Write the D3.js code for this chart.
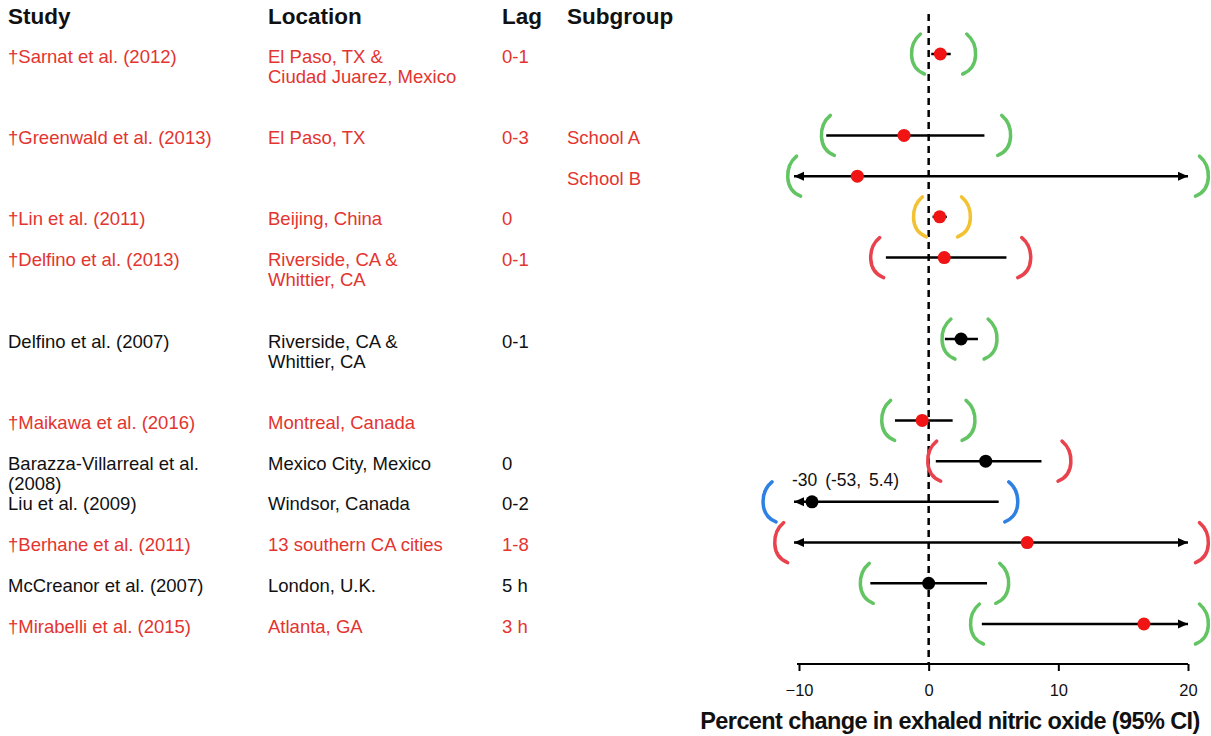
<!DOCTYPE html>
<html>
<head>
<meta charset="utf-8">
<script src="https://cdn.jsdelivr.net/npm/d3@7"></script>
<style>
  html, body { margin: 0; padding: 0; background: #fff; }
  svg { display: block; font-family: "Liberation Sans", Arial, sans-serif; }
</style>
</head>
<body>
<svg id="chart" width="1211" height="736"></svg>
<script>
// Studies of traffic-related pollution and exhaled nitric oxide
const studies = [
  "†Sarnat et al. (2012)", "†Greenwald et al. (2013)", "", "†Lin et al. (2011)",
  "†Delfino et al. (2013)", "Delfino et al. (2007)", "†Maikawa et al. (2016)",
  "Barazza-Villarreal et al.\n(2008)", "Liu et al. (2009)", "†Berhane et al. (2011)",
  "McCreanor et al. (2007)", "†Mirabelli et al. (2015)"
];
const locations = [
  "El Paso, TX &\nCiudad Juarez, Mexico", "El Paso, TX", "", "Beijing, China",
  "Riverside, CA &\nWhittier, CA", "Riverside, CA &\nWhittier, CA", "Montreal, Canada",
  "Mexico City, Mexico", "Windsor, Canada", "13 southern CA cities", "London, U.K.", "Atlanta, GA"
];
const lags = ["0-1", "0-3", "", "0", "0-1", "0-1", "", "0", "0-2", "1-8", "5 h", "3 h"];
const subgroups = ["", "School A", "School B", "", "", "", "", "", "", "", "", ""];
// row slot in the table (blank slots leave room for two-line entries)
const slots = [0, 2, 3, 4, 5, 7, 9, 10, 11, 12, 13, 14];
// dagger studies are flagged
const flagged = [true, true, true, true, true, false, true, false, false, true, false, true];

// percent change and 95% CI; null = beyond the plotted range
const estimates = [0.9, -1.9, -5.5, 0.85, 1.2, 2.5, -0.5, 4.4, -30, 7.6, 0, 16.6];
const ciLower   = [0.2, -7.9, null, 0.3, -3.3, 1.25, -2.6, 0.55, -53, null, -4.5, 4.1];
const ciUpper   = [1.7, 4.3, null, 1.4, 6.0, 3.8, 1.85, 8.7, 5.4, null, 4.5, null];

// quality brackets around each estimate
const bracketClass = ["good", "good", "good", "fair", "poor", "good", "good", "poor", "weak", "poor", "good", "good"];
const bracketLeft  = [-1.25, -8.2, -10.8, -1.1, -4.4, 1.1, -3.55, 0.0, -12.7, -11.8, -5.2, 3.3];
const bracketRight = [3.55, 6.25, 21.5, 3.15, 7.8, 5.2, 3.5, 10.9, 6.8, 21.5, 6.1, 21.5];

const xTicks = [-10, 0, 10, 20];
const headers = ["Study", "Location", "Lag", "Subgroup"];

const RED = "#e3342f";
const bracketColors = { good: "#62c462", fair: "#f2c233", poor: "#e8424d", weak: "#2f80e3" };

const svg = d3.select("#chart");
const x = d3.scaleLinear().domain([-10, 20]).range([799, 1188]);
const y = d3.scaleLinear().domain([0, 14]).range([54, 624]);
const axisY = 664;

// column headers
const headerX = [8, 268, 502, 567];
svg.append("g").selectAll("text").data(headers).join("text")
  .attr("x", (d, i) => headerX[i]).attr("y", 24)
  .attr("font-size", 22.5).attr("font-weight", "bold").attr("fill", "#111")
  .text(d => d);

// table text
const cols = [studies, locations, lags, subgroups];
const colX = [8, 268, 502, 567];
const table = svg.append("g");
cols.forEach((col, c) => {
  col.forEach((txt, i) => {
    if (!txt) return;
    const t = table.append("text")
      .attr("x", colX[c]).attr("y", y(slots[i]) + 8.5)
      .attr("font-size", 18.5)
      .attr("fill", flagged[i] ? RED : "#111");
    txt.split("\n").forEach((line, k) => {
      t.append("tspan").attr("x", colX[c]).attr("dy", k === 0 ? 0 : 20).text(line);
    });
  });
});

// reference line at zero
svg.append("line")
  .attr("x1", x(0)).attr("x2", x(0)).attr("y1", 14).attr("y2", axisY)
  .attr("stroke", "#000").attr("stroke-width", 2.5).attr("stroke-dasharray", "7,5");

// x axis
const axis = svg.append("g").attr("transform", `translate(0,${axisY})`)
  .call(d3.axisBottom(x).tickValues(xTicks).tickSize(7).tickSizeOuter(0).tickFormat(d3.format("d")));
axis.select(".domain").attr("stroke", "#000").attr("stroke-width", 2)
  .attr("d", `M${x(-10) - 2},0H${x(20)}`);
axis.selectAll(".tick line").attr("stroke", "#000").attr("stroke-width", 2);
axis.selectAll(".tick text").attr("font-size", 16.5).attr("fill", "#111")
  .attr("font-family", "Liberation Sans, Arial, sans-serif").attr("dy", "1.35em");

svg.append("text")
  .attr("x", 950).attr("y", 729).attr("text-anchor", "middle")
  .attr("font-size", 23.5).attr("font-weight", "bold").attr("letter-spacing", -0.6)
  .attr("fill", "#111")
  .text("Percent change in exhaled nitric oxide (95% CI)");

// arrowheads
const defs = svg.append("defs");
defs.append("marker").attr("id", "arrowR").attr("viewBox", "0 0 10 10")
  .attr("refX", 10).attr("refY", 5).attr("markerWidth", 10).attr("markerHeight", 10)
  .attr("markerUnits", "userSpaceOnUse").attr("orient", "auto")
  .append("path").attr("d", "M0,0.5L10,5L0,9.5Z").attr("fill", "#000");
defs.append("marker").attr("id", "arrowL").attr("viewBox", "0 0 10 10")
  .attr("refX", 0).attr("refY", 5).attr("markerWidth", 10).attr("markerHeight", 10)
  .attr("markerUnits", "userSpaceOnUse").attr("orient", "auto")
  .append("path").attr("d", "M10,0.5L0,5L10,9.5Z").attr("fill", "#000");

const xMin = x.domain()[0], xMax = x.domain()[1];
const rows = estimates.map((est, i) => {
  const loOff = ciLower[i] === null || ciLower[i] < xMin;
  const hiOff = ciUpper[i] === null || ciUpper[i] > xMax;
  return {
    est, i, cy: y(slots[i]), loOff, hiOff,
    x1: loOff ? x(xMin) - 5 : x(ciLower[i]),
    x2: hiOff ? x(xMax) : x(ciUpper[i]),
    px: est < xMin ? x(xMin) + 13 : x(est)
  };
});

// confidence interval lines
svg.append("g").selectAll("line").data(rows).join("line")
  .attr("x1", d => d.x1).attr("x2", d => d.x2)
  .attr("y1", d => d.cy).attr("y2", d => d.cy)
  .attr("stroke", "#000").attr("stroke-width", 2.5)
  .attr("marker-start", d => d.loOff ? "url(#arrowL)" : null)
  .attr("marker-end", d => d.hiOff ? "url(#arrowR)" : null);

// point estimates
svg.append("g").selectAll("circle").data(rows).join("circle")
  .attr("cx", d => d.px).attr("cy", d => d.cy).attr("r", 6.5)
  .attr("fill", d => flagged[d.i] ? "#f01414" : "#000");

// value label for the off-scale estimate
rows.filter(d => d.est < xMin).forEach(d => {
  svg.append("text")
    .attr("x", x(xMin) - 7).attr("y", d.cy - 16)
    .attr("font-size", 17.5).attr("fill", "#111").attr("word-spacing", 3)
    .text(`${d.est} (${ciLower[d.i]}, ${ciUpper[d.i]})`);
});

// hand-drawn style brackets
const h = 40;
function leftBracket(bx, cy) {
  return `M${bx + 8},${cy - h / 2} C${bx - 4},${cy - h / 4} ${bx - 5},${cy + h / 3} ${bx + 12},${cy + h / 2}`;
}
function rightBracket(bx, cy) {
  return `M${bx - 8},${cy - h / 2} C${bx + 4},${cy - h / 4} ${bx + 5},${cy + h / 3} ${bx - 12},${cy + h / 2}`;
}
const br = svg.append("g").attr("fill", "none").attr("stroke-width", 3.5).attr("stroke-linecap", "round");
br.selectAll("path.l").data(rows).join("path").attr("class", "l")
  .attr("d", d => leftBracket(x(bracketLeft[d.i]), d.cy))
  .attr("stroke", d => bracketColors[bracketClass[d.i]]);
br.selectAll("path.r").data(rows).join("path").attr("class", "r")
  .attr("d", d => rightBracket(x(bracketRight[d.i]), d.cy))
  .attr("stroke", d => bracketColors[bracketClass[d.i]]);
</script>
</body>
</html>
